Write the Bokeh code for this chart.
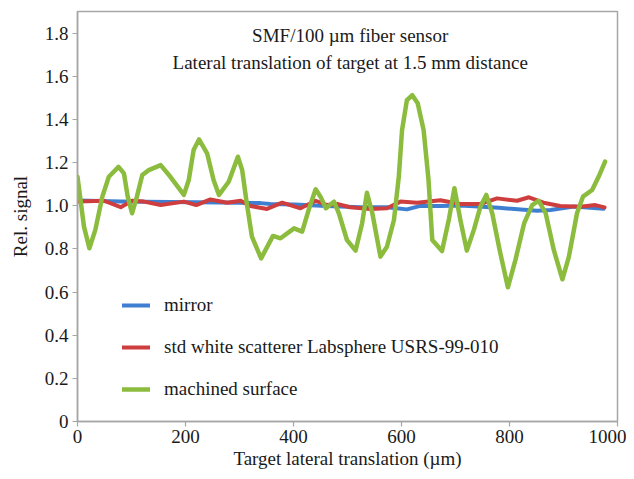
from bokeh.plotting import figure
from bokeh.models import FixedTicker, CustomJSTickFormatter, Legend, LegendItem, Label
from bokeh.embed import file_html
from bokeh.resources import INLINE

# ---- data ----
mirror_x = [0, 80, 172, 265, 339, 357, 401, 462, 524, 573, 610, 635, 672, 709, 734, 780, 851, 876, 919, 974]
mirror_y = [1.024, 1.019, 1.017, 1.015, 1.012, 1.008, 1.006, 0.999, 0.993, 0.993, 0.983, 0.999, 0.999, 1.001, 0.998, 0.99, 0.977, 0.98, 0.996, 0.986]

white_x = [0, 49, 80, 101, 123, 154, 197, 220, 246, 277, 302, 320, 351, 379, 413, 441, 462, 481, 505, 542, 573, 598, 629, 672, 709, 746, 777, 814, 836, 863, 894, 931, 959, 976]
white_y = [1.019, 1.023, 0.993, 1.023, 1.019, 1.003, 1.019, 1.003, 1.029, 1.014, 1.023, 0.999, 0.985, 1.014, 0.988, 1.023, 1.003, 1.008, 0.993, 0.985, 0.988, 1.019, 1.014, 1.025, 1.008, 1.008, 1.034, 1.023, 1.039, 1.014, 0.999, 0.995, 1.003, 0.992]

machined_x = [0, 12, 22, 33, 46, 58, 76, 86, 93, 101, 110, 120, 132, 154, 172, 197, 206, 215, 225, 240, 252, 262, 280, 297, 305, 313, 323, 340, 362, 376, 401, 416, 428, 441, 450, 460, 475, 484, 499, 515, 527, 536, 546, 561, 573, 586, 595, 601, 610, 620, 630, 641, 650, 657, 675, 688, 698, 709, 721, 734, 746, 757, 768, 783, 797, 811, 827, 842, 854, 867, 882, 898, 910, 925, 936, 953, 965, 977]
machined_y = [1.134, 0.903, 0.803, 0.888, 1.042, 1.134, 1.18, 1.15, 1.042, 0.965, 1.042, 1.142, 1.165, 1.188, 1.134, 1.05, 1.119, 1.258, 1.307, 1.243, 1.119, 1.05, 1.111, 1.227, 1.165, 1.019, 0.857, 0.756, 0.86, 0.849, 0.895, 0.88, 0.98, 1.076, 1.042, 0.988, 1.019, 0.965, 0.841, 0.792, 0.918, 1.06, 0.965, 0.764, 0.81, 0.934, 1.134, 1.35, 1.489, 1.512, 1.475, 1.35, 1.12, 0.841, 0.79, 0.94, 1.081, 0.934, 0.792, 0.888, 0.995, 1.05, 0.965, 0.78, 0.622, 0.749, 0.918, 1.003, 1.023, 0.965, 0.795, 0.659, 0.764, 0.965, 1.042, 1.073, 1.134, 1.204]

x_ticks = [0, 200, 400, 600, 800, 1000]
y_ticks = [0, 0.2, 0.4, 0.6, 0.8, 1.0, 1.2, 1.4, 1.6, 1.8]

series_labels = ["mirror", "std white scatterer Labsphere USRS-99-010", "machined surface"]
title_lines = ["SMF/100 \u00b5m fiber sensor", "Lateral translation of target at 1.5 mm distance"]
x_label = "Target lateral translation (\u00b5m)"
y_label = "Rel. signal"

FONT = "Liberation Serif"
FS = "19px"
AXIS_GREY = "#a6a6a6"
TXT = "#1a1a1a"

p = figure(width=626, height=471, x_range=(0, 1000), y_range=(0, 1.9),
           output_backend="svg", toolbar_location=None,
           min_border_left=77, min_border_right=9, min_border_top=11, min_border_bottom=49)

p.xgrid.visible = False
p.ygrid.visible = False
p.outline_line_color = AXIS_GREY
p.outline_line_width = 1.5

for ax in (p.xaxis[0], p.yaxis[0]):
    ax.axis_line_color = AXIS_GREY
    ax.axis_line_width = 1.5
    ax.major_tick_line_color = AXIS_GREY
    ax.major_tick_line_width = 1.2
    ax.major_tick_out = 5
    ax.major_tick_in = 0
    ax.minor_tick_line_color = None
    ax.major_label_text_font = FONT
    ax.major_label_text_font_size = FS
    ax.major_label_text_color = TXT
    ax.axis_label_text_font = FONT
    ax.axis_label_text_font_size = FS
    ax.axis_label_text_font_style = "normal"
    ax.axis_label_text_color = TXT

p.xaxis.ticker = FixedTicker(ticks=x_ticks)
p.yaxis.ticker = FixedTicker(ticks=y_ticks)
p.yaxis.formatter = CustomJSTickFormatter(code="return tick == 0 ? '0' : tick.toFixed(1);")
p.xaxis.axis_label = x_label
p.yaxis.axis_label = y_label
p.xaxis.major_label_standoff = 3
p.xaxis.axis_label_standoff = 2
p.yaxis.major_label_standoff = 4
p.yaxis.axis_label_standoff = 11

r_mirror = p.line(mirror_x, mirror_y, line_color="#3f7fd1", line_width=4, line_join="round", line_cap="round")
r_white = p.line(white_x, white_y, line_color="#cf3e3e", line_width=4, line_join="round", line_cap="round")
r_mach = p.line(machined_x, machined_y, line_color="#8cbc3e", line_width=4.5, line_join="round", line_cap="round")

for txt, yy in zip(title_lines, [1.79, 1.665]):
    p.add_layout(Label(x=505, y=yy, text=txt, text_align="center", text_baseline="middle",
                       text_font=FONT, text_font_size=FS, text_color=TXT))

legend = Legend(items=[LegendItem(label=series_labels[0], renderers=[r_mirror]),
                       LegendItem(label=series_labels[1], renderers=[r_white]),
                       LegendItem(label=series_labels[2], renderers=[r_mach])],
                location=(45, 21), orientation="vertical",
                glyph_width=28, glyph_height=20, label_height=20, label_standoff=14,
                spacing=20, padding=0, margin=0,
                border_line_color=None, background_fill_alpha=0,
                label_text_font=FONT, label_text_font_size=FS, label_text_color=TXT)
p.add_layout(legend)

open("out.html", "w").write(file_html(p, INLINE))
